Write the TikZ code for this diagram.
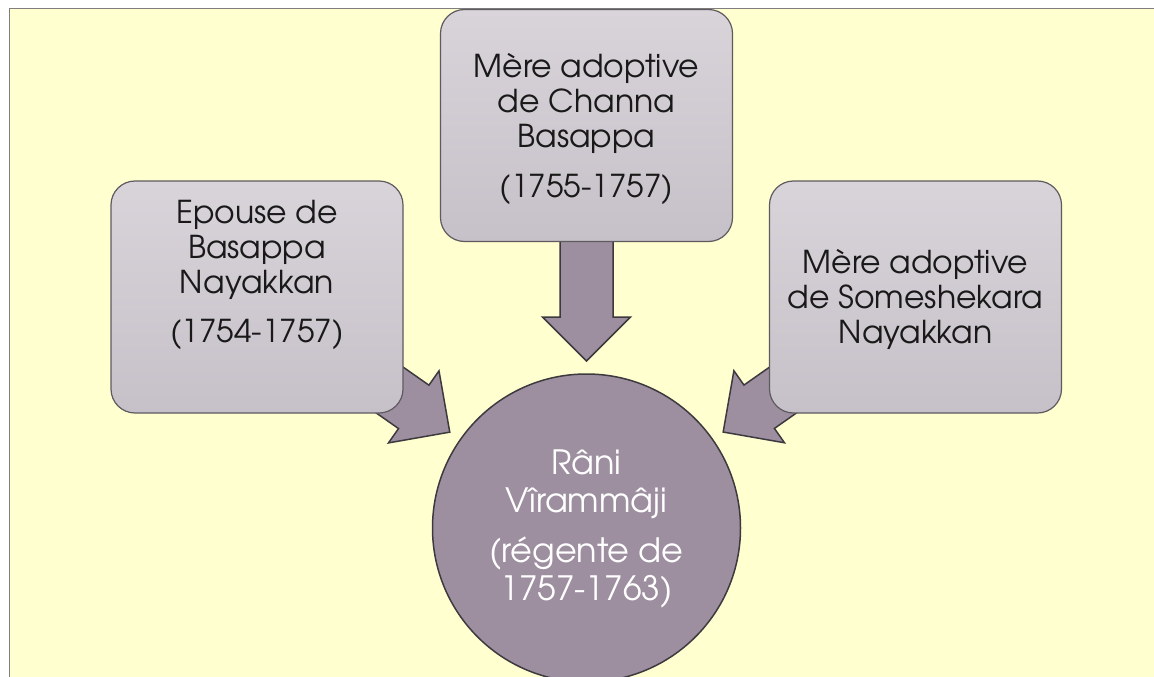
\documentclass[tikz,border=0pt]{standalone}
\usepackage{fontspec}
\setmainfont{TeX Gyre Adventor}
\usetikzlibrary{calc}
\definecolor{bgyellow}{HTML}{FFFFD0}
\definecolor{pagegray}{HTML}{7F7F7F}
\definecolor{boxtop}{HTML}{D8D4DA}
\definecolor{boxbot}{HTML}{C6C1C8}
\definecolor{boxline}{HTML}{5E5A60}
\definecolor{mauve}{HTML}{9D8FA0}
\definecolor{arrowline}{HTML}{3D3A3F}
\newcommand\blockarrow[2]{%
  \coordinate (tip#1) at ($(#2)!167pt!(#1)$);
  \coordinate (hb#1) at ($(tip#1)!44pt!(#1)$);
  \draw[arrowshape] ($(#1)!26.5pt!90:(hb#1)$) -- ($(hb#1)!26.5pt!-90:(#1)$) -- ($(hb#1)!44pt!-90:(#1)$) -- (tip#1) -- ($(hb#1)!44pt!90:(#1)$) -- ($(hb#1)!26.5pt!90:(#1)$) -- ($(#1)!26.5pt!-90:(hb#1)$) -- cycle;%
}
\tikzset{
  arrowshape/.style={fill=mauve, draw=arrowline, line width=1.5pt, line join=miter},
  box/.style={draw=boxline, line width=1.2pt, rounded corners=24pt, top color=boxtop, bottom color=boxbot, minimum width=292pt, minimum height=232pt, inner sep=0pt},
  hub/.style={circle, draw=arrowline, fill=mauve, line width=1.5pt, minimum size=308pt, inner sep=0pt},
  boxtext/.style={align=center, font=\fontsize{31.5}{35}\selectfont, text=black!90},
  hubtext/.style={align=center, font=\fontsize{33.5}{38}\selectfont, text=white},
}
\begin{document}
\begin{tikzpicture}[x=1pt,y=-1pt]
\useasboundingbox (0,0) rectangle (1154,677);
\fill[bgyellow] (9,9) rectangle (1170,690);
\draw[pagegray, line width=1pt] (9,690) -- (9,9) -- (1170,9);
% centres
\coordinate (lc) at (257,297);
\coordinate (mc) at (586.5,125.5);
\coordinate (rc) at (915.5,297);
\coordinate (cc) at (586.5,528);
% arrows
\blockarrow{lc}{cc}
\blockarrow{mc}{cc}
\blockarrow{rc}{cc}
% boxes
\node[box] (lb) at (lc) {};
\node[box] (mb) at (mc) {};
\node[box] (rb) at (rc) {};
\node[hub] (ci) at (cc) {};
% texts
\node[boxtext] (lt) at (257,275) {Epouse de\\Basappa\\Nayakkan\\[14pt](1754-1757)};
\node[boxtext] (mt) at (586.5,129) {Mère adoptive\\de Channa\\Basappa\\[15pt](1755-1757)};
\node[boxtext] (rt) at (915.5,299.5) {Mère adoptive\\de Someshekara\\Nayakkan};
\node[hubtext] (ct) at (586.5,529) {Râni\\Vîrammâji\\[12pt](régente de\\1757-1763)};
\end{tikzpicture}
\end{document}
